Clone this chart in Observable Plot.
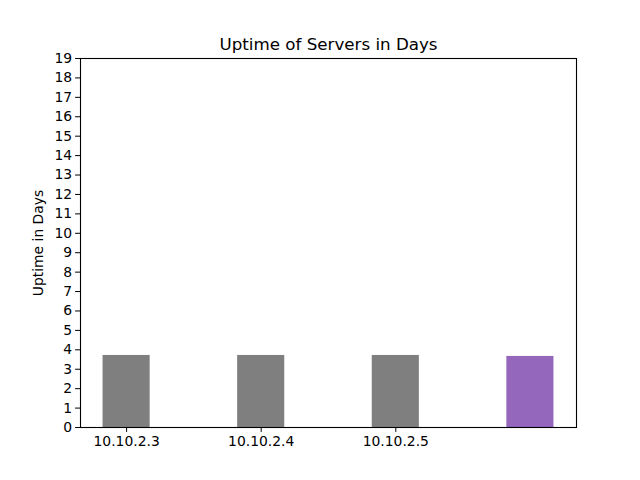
<!DOCTYPE html>
<html>
<head>
<meta charset="utf-8">
<script src="https://cdn.jsdelivr.net/npm/d3@7"></script>
<script src="https://cdn.jsdelivr.net/npm/@observablehq/plot@0.6"></script>
<style>
  html, body { margin: 0; padding: 0; background: white; }
</style>
</head>
<body>
<div id="chart"></div>
<script>
const categories = ["10.10.2.3", "10.10.2.4", "10.10.2.5", ""];
const uptimeDays = [3.71, 3.71, 3.71, 3.66];
const barColors = ["#7f7f7f", "#7f7f7f", "#7f7f7f", "#9467bd"];
const yTicks = d3.range(0, 20);
const titleText = "Uptime of Servers in Days";
const yLabel = "Uptime in Days";

const data = categories.map((c, i) => ({ i, c, v: uptimeDays[i], color: barColors[i] }));
const barHalf = 0.175;
const xTicks = data.filter(d => d.c !== "").map(d => d.i);

const chart = Plot.plot({
  width: 640,
  height: 480,
  marginLeft: 80,
  marginRight: 64,
  marginTop: 58,
  marginBottom: 53,
  style: { fontFamily: "DejaVu Sans", fontSize: "13.9px", color: "black", background: "white" },
  x: { type: "linear", domain: [-0.3425, 3.3425] },
  y: { domain: [0, 19] },
  color: { type: "identity" },
  marks: [
    Plot.rectY(data, { x1: d => d.i - barHalf, x2: d => d.i + barHalf, y1: 0, y2: "v", fill: "color" }),
    Plot.axisX({ ticks: xTicks, tickFormat: i => categories[i], tickSize: 4.9, tickPadding: 3.5, label: null, fontSize: 13.9 }),
    Plot.axisY({ ticks: yTicks, tickSize: 4.9, tickPadding: 3.5, label: null, fontSize: 13.9 }),
    Plot.frame({ stroke: "black", strokeWidth: 1.1 }),
    Plot.text([titleText], { frameAnchor: "top", dy: -9, lineAnchor: "bottom", fontSize: 16.7, fill: "black" }),
    Plot.text([yLabel], { frameAnchor: "left", textAnchor: "middle", rotate: -90, dx: -42, fontSize: 13.9, fill: "black" })
  ]
});
document.getElementById("chart").appendChild(chart);
</script>
</body>
</html>
